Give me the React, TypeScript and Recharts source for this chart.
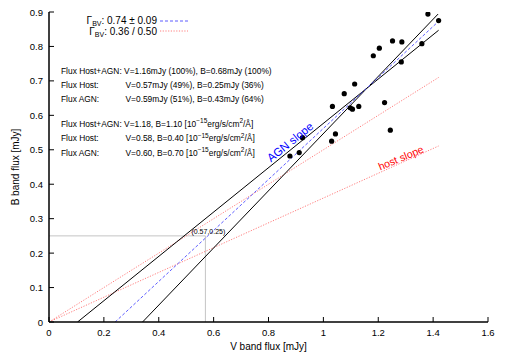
import React from 'react';
import { ComposedChart, XAxis, YAxis, Scatter, Line, ReferenceLine, ReferenceDot } from 'recharts';

const FONT = '"Liberation Sans", Arial, Helvetica, sans-serif';

const xTicks = [0, 0.2, 0.4, 0.6, 0.8, 1, 1.2, 1.4, 1.6];
const xTickLabels = ['0', '0.2', '0.4', '0.6', '0.8', '1', '1.2', '1.4', '1.6'];
const yTicks = [0, 0.1, 0.2, 0.3, 0.4, 0.5, 0.6, 0.7, 0.8, 0.9];
const yTickLabels = ['0', '0.1', '0.2', '0.3', '0.4', '0.5', '0.6', '0.7', '0.8', '0.9'];

// observed flux pairs
const fluxV = [1.381, 1.42, 1.359, 1.252, 1.286, 1.284, 1.204, 1.182, 1.114, 1.076, 1.033,
  1.098, 1.106, 1.129, 1.223, 1.244, 1.044, 1.03, 0.924, 0.912, 0.878];
const fluxB = [0.894, 0.875, 0.808, 0.816, 0.813, 0.755, 0.795, 0.773, 0.691, 0.663, 0.626,
  0.622, 0.618, 0.626, 0.637, 0.557, 0.546, 0.525, 0.535, 0.492, 0.482];
const points = fluxV.map((v, i) => ({ v, b: fluxB[i] }));

// fit lines (endpoints)
const agnFit = [{ v: 0.241, b: 0 }, { v: 1.42, b: 0.873 }];
const fitSteep = [{ v: 0.341, b: 0 }, { v: 1.418, b: 0.894 }];
const fitShallow = [{ v: 0.104, b: 0 }, { v: 1.42, b: 0.847 }];
const hostHigh = [{ v: 0, b: 0 }, { v: 1.42, b: 0.71 }];
const hostLow = [{ v: 0, b: 0 }, { v: 1.42, b: 0.511 }];

const hostPoint = { v: 0.57, b: 0.25 };

const infoLabels = ['Flux Host+AGN:', 'Flux Host:', 'Flux AGN:'];
const infoMJy = [
  'V=1.16mJy (100%), B=0.68mJy (100%)',
  'V=0.57mJy (49%), B=0.25mJy (36%)',
  'V=0.59mJy (51%), B=0.43mJy (64%)',
];
const infoCgs = ['V=1.18, B=1.10', 'V=0.58, B=0.40', 'V=0.60, B=0.70'];

const BLUE = '#4a4aff';
const RED = '#ff7070';

const BottomTick = (props: any) => {
  const { x, y, payload, index } = props;
  return (
    <g>
      <line x1={x} x2={x} y1={y} y2={y - 5} stroke="#000" strokeWidth={1} />
      <text x={x} y={y + 14} textAnchor="middle" fontSize={9.5} fontFamily={FONT} fill="#000">
        {xTickLabels[index] ?? String(payload.value)}
      </text>
    </g>
  );
};
const TopTick = (props: any) => {
  const { x, y } = props;
  return <line x1={x} x2={x} y1={y} y2={y + 5} stroke="#000" strokeWidth={1} />;
};
const LeftTick = (props: any) => {
  const { x, y, payload, index } = props;
  return (
    <g>
      <line x1={x} x2={x + 5} y1={y} y2={y} stroke="#000" strokeWidth={1} />
      <text x={x - 6} y={y + 3.5} textAnchor="end" fontSize={9.5} fontFamily={FONT} fill="#000">
        {yTickLabels[index] ?? String(payload.value)}
      </text>
    </g>
  );
};
const RightTick = (props: any) => {
  const { x, y } = props;
  return <line x1={x} x2={x - 5} y1={y} y2={y} stroke="#000" strokeWidth={1} />;
};

const Dot = (p: any) => <circle cx={p.cx} cy={p.cy} r={2.6} fill="#000" />;

const HostLabel = (props: any) => {
  const vb = props.viewBox || {};
  const cx = (vb.x ?? 0) + (vb.width ?? 0) / 2;
  const cy = (vb.y ?? 0) + (vb.height ?? 0) / 2;
  return (
    <text x={cx + 3} y={cy - 2} textAnchor="middle" fontSize={7} fontFamily={FONT} fill="#000">
      (0.57,0.25)
    </text>
  );
};

const Sup = ({ children }: any) => null;

export default function App() {
  const cgsTail = (
    <>
      {' ['}10<tspan fontSize={6.5} dy={-3.5}>−15</tspan><tspan dy={3.5}>erg/s/cm</tspan>
      <tspan fontSize={6.5} dy={-3.5}>2</tspan><tspan dy={3.5}>/Å]</tspan>
    </>
  );
  return (
    <div style={{ position: 'absolute', left: 0, top: 0, width: 506, height: 354, background: '#fff' }}>
      <ComposedChart width={506} height={354} margin={{ top: 12, right: 18, bottom: 0, left: 0 }}>
        <XAxis xAxisId={0} dataKey="v" type="number" domain={[0, 1.6]} ticks={xTicks}
          height={32} tickSize={0} tickMargin={0} tickLine={false} interval={0}
          axisLine={{ stroke: '#000', strokeWidth: 1.5 }} tick={BottomTick} allowDataOverflow />
        <XAxis xAxisId="top" orientation="top" dataKey="v" type="number" domain={[0, 1.6]} ticks={xTicks}
          height={0} tickSize={0} tickMargin={0} tickLine={false} interval={0}
          axisLine={{ stroke: '#222', strokeWidth: 1.2 }} tick={TopTick} allowDataOverflow />
        <YAxis yAxisId={0} dataKey="b" type="number" domain={[0, 0.9]} ticks={yTicks}
          width={49} tickSize={0} tickMargin={0} tickLine={false} interval={0}
          axisLine={{ stroke: '#000', strokeWidth: 1.5 }} tick={LeftTick} allowDataOverflow />
        <YAxis yAxisId="right" orientation="right" type="number" domain={[0, 0.9]} ticks={yTicks}
          width={0} tickSize={0} tickMargin={0} tickLine={false} interval={0}
          axisLine={{ stroke: '#666', strokeWidth: 1.6 }} tick={RightTick} allowDataOverflow />

        <ReferenceLine segment={[{ x: 0, y: hostPoint.b }, { x: hostPoint.v, y: hostPoint.b }]}
          stroke="#c4c4c4" strokeWidth={1} ifOverflow="visible" />
        <ReferenceLine segment={[{ x: hostPoint.v, y: 0 }, { x: hostPoint.v, y: hostPoint.b }]}
          stroke="#c4c4c4" strokeWidth={1} ifOverflow="visible" />

        <Line data={hostHigh} dataKey="b" type="linear" stroke={RED} strokeWidth={0.9}
          strokeDasharray="1.2 1.5" dot={false} activeDot={false} isAnimationActive={false} />
        <Line data={hostLow} dataKey="b" type="linear" stroke={RED} strokeWidth={0.9}
          strokeDasharray="1.2 1.5" dot={false} activeDot={false} isAnimationActive={false} />
        <Line data={fitSteep} dataKey="b" type="linear" stroke="#000" strokeWidth={1}
          dot={false} activeDot={false} isAnimationActive={false} />
        <Line data={fitShallow} dataKey="b" type="linear" stroke="#000" strokeWidth={1}
          dot={false} activeDot={false} isAnimationActive={false} />
        <Line data={agnFit} dataKey="b" type="linear" stroke={BLUE} strokeWidth={0.9}
          strokeDasharray="3 2" dot={false} activeDot={false} isAnimationActive={false} />

        <Scatter data={points} dataKey="b" shape={Dot} isAnimationActive={false} />

        <ReferenceDot x={hostPoint.v} y={hostPoint.b} r={0} fill="none" stroke="none"
          label={<HostLabel />} ifOverflow="visible" />
      </ComposedChart>

      <svg width={506} height={354} style={{ position: 'absolute', left: 0, top: 0, pointerEvents: 'none' }}
        fontFamily={FONT}>
        {/* key */}
        <text x={157} y={24} textAnchor="end" fontSize={10} fill="#000">
          Γ<tspan fontSize={7} dy={2}>BV</tspan><tspan dy={-2}>: 0.74 ± 0.09</tspan>
        </text>
        <line x1={160} x2={188} y1={21} y2={21} stroke={BLUE} strokeWidth={0.9} strokeDasharray="3 2" />
        <text x={157} y={34.5} textAnchor="end" fontSize={10} fill="#000">
          Γ<tspan fontSize={7} dy={2}>BV</tspan><tspan dy={-2}>: 0.36 / 0.50</tspan>
        </text>
        <line x1={160} x2={188} y1={31} y2={31} stroke={RED} strokeWidth={0.9} strokeDasharray="1.2 1.5" />

        {/* info block */}
        <text x={61} y={74} fontSize={8.4} fill="#000">{infoLabels[0] + ' ' + infoMJy[0]}</text>
        {[1, 2].map((i) => (
          <g key={'a' + i}>
            <text x={61} y={74 + i * 14} fontSize={8.4} fill="#000">{infoLabels[i]}</text>
            <text x={125.5} y={74 + i * 14} fontSize={8.4} fill="#000">{infoMJy[i]}</text>
          </g>
        ))}
        <text x={61} y={126.5} fontSize={8.4} fill="#000">{infoLabels[0] + ' ' + infoCgs[0]}{cgsTail}</text>
        {[1, 2].map((i) => (
          <g key={'b' + i}>
            <text x={61} y={126.5 + i * 14.5} fontSize={8.4} fill="#000">{infoLabels[i]}</text>
            <text x={125.5} y={126.5 + i * 14.5} fontSize={8.4} fill="#000">{infoCgs[i]}{cgsTail}</text>
          </g>
        ))}

        {/* slope labels */}
        <g transform="translate(290,142) rotate(-39)">
          <text x={0} y={4} textAnchor="middle" fontSize={11.5} fill="#0000ff">AGN slope</text>
        </g>
        <g transform="translate(401,158) rotate(-22.5)">
          <text x={0} y={3.5} textAnchor="middle" fontSize={10.5} fill="#ff0000">host slope</text>
        </g>

        {/* axis titles */}
        <text x={268.5} y={350} textAnchor="middle" fontSize={10} fill="#000">V band flux [mJy]</text>
        <g transform="translate(18.5,167) rotate(-90)">
          <text x={0} y={0} textAnchor="middle" fontSize={10} fill="#000">B band flux [mJy]</text>
        </g>
      </svg>
    </div>
  );
}
